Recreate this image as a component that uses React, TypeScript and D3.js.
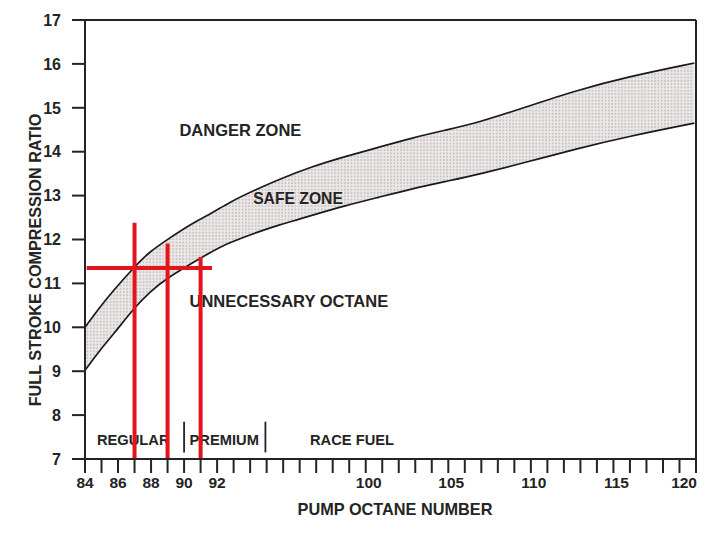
import React from "react";
import * as d3 from "d3";

// ---- data (octane number, compression ratio) ----
const upperOctane = [84, 84.9, 85.7, 87, 87.9, 89, 90.3, 91.7, 92.65, 94.26, 95.33, 97.1, 98.9, 100.77, 102.76, 104.8, 106.8, 109.8, 112.8, 115.8, 119.9];
const upperRatio = [10.0, 10.46, 10.83, 11.38, 11.72, 12.0, 12.33, 12.6, 12.85, 13.17, 13.37, 13.66, 13.89, 14.1, 14.31, 14.49, 14.66, 15.03, 15.4, 15.7, 16.02];
const lowerOctane = [84, 84.9, 85.7, 87, 87.9, 89, 91, 92.55, 94.26, 95.33, 96.4, 97.1, 98.9, 100.77, 102.76, 104.8, 106.8, 109.8, 112.8, 115.8, 119.9];
const lowerRatio = [9.02, 9.48, 9.83, 10.45, 10.8, 11.13, 11.58, 11.92, 12.18, 12.33, 12.46, 12.55, 12.77, 12.96, 13.15, 13.32, 13.48, 13.77, 14.07, 14.34, 14.65];

const xTickLabels = [84, 86, 88, 90, 92, 100, 105, 110, 115, 120];
const yTickLabels = [7, 8, 9, 10, 11, 12, 13, 14, 15, 16, 17];
const xTickCount = 38; // evenly spaced tick marks on the octane axis

// red reference lines
const redVerticalOctane = [87, 89, 91];
const redVerticalTop = [12.38, 11.91, 11.6];
const redHorizontalRatio = 11.35;
const redHorizontalFrom = 84.1;
const redHorizontalTo = 91.69;

// fuel category dividers
const dividerOctane = [90, 94.6];

const zoneLabels = ["DANGER ZONE", "SAFE ZONE", "UNNECESSARY OCTANE"];
const zoneOctane = [89.72, 93.94, 90.33];
const zoneRatio = [14.36, 12.82, 10.47];

const fuelLabels = ["REGULAR", "PREMIUM", "RACE FUEL"];
const fuelOctane = [84.72, 90.33, 97.0];
const fuelRatio = 7.32;

export default function App() {
  const W = 718, H = 534;
  const left = 85, right = 696, top = 20, bottom = 459;

  const xi = d3.scaleLinear().domain([0, xTickCount - 1]).range([left, right]);
  const x = d3.scaleLinear().domain([84, 92, 100, 120]).range([xi(0), xi(8), xi(17), xi(37)]);
  const y = d3.scaleLinear().domain([7, 17]).range([bottom, top]);

  const upperPts = upperOctane.map((o, i) => [x(o), y(upperRatio[i])] as [number, number]);
  const lowerPts = lowerOctane.map((o, i) => [x(o), y(lowerRatio[i])] as [number, number]);

  const line = d3.line().curve(d3.curveBasis);
  const upperPath = line(upperPts) || "";
  const lowerPath = line(lowerPts) || "";
  const lowerRev = line([...lowerPts].reverse()) || "";
  const areaPath = upperPath + "L" + lowerRev.slice(1) + "Z";

  const font = "'Liberation Sans', Arial, Helvetica, sans-serif";
  const ink = "#242424";
  const red = "#e3141c";

  return (
    <svg width={W} height={H} style={{ position: "absolute", left: 0, top: 0, background: "#fff" }}>
      <defs>
        <pattern id="dots" width="3.3" height="3.3" patternUnits="userSpaceOnUse">
          <rect width="3.3" height="3.3" fill="#ece8e8" />
          <circle cx="1.65" cy="1.65" r="0.95" fill="#c6c1c1" />
        </pattern>
      </defs>

      {/* safe band */}
      <path d={areaPath} fill="url(#dots)" stroke="none" />
      <path d={upperPath} fill="none" stroke="#1a1a1a" strokeWidth={1.7} />
      <path d={lowerPath} fill="none" stroke="#1a1a1a" strokeWidth={1.7} />

      {/* frame */}
      <line x1={left - 13} x2={right} y1={top} y2={top} stroke={ink} strokeWidth={2} />
      <line x1={right} x2={right} y1={top} y2={bottom + 14} stroke={ink} strokeWidth={2} />
      <line x1={left} x2={left} y1={top} y2={bottom + 14} stroke={ink} strokeWidth={2} />
      <line x1={left - 13} x2={right} y1={bottom} y2={bottom} stroke={ink} strokeWidth={2} />

      {/* y ticks */}
      {yTickLabels.map((v) => (
        <g key={"y" + v}>
          <line x1={left - 13} x2={left} y1={y(v)} y2={y(v)} stroke={ink} strokeWidth={2} />
          <text x={61} y={y(v)} dy="0.36em" textAnchor="end" fontFamily={font} fontWeight="bold" fontSize={16} fill={ink}>
            {v}
          </text>
        </g>
      ))}

      {/* x ticks */}
      {d3.range(xTickCount).map((i) => (
        <line key={"xt" + i} x1={xi(i)} x2={xi(i)} y1={bottom} y2={bottom + 14} stroke={ink} strokeWidth={2} />
      ))}
      {xTickLabels.map((v, i) => (
        <text
          key={"xl" + v}
          x={i === xTickLabels.length - 1 ? x(v) + 1 : x(v) + (v >= 100 ? 3 : 0)}
          y={488}
          textAnchor={i === xTickLabels.length - 1 ? "end" : "middle"}
          fontFamily={font}
          fontWeight="bold"
          fontSize={15.5}
          fill={ink}
        >
          {v}
        </text>
      ))}

      {/* axis titles */}
      <text x={395} y={515} textAnchor="middle" fontFamily={font} fontWeight="bold" fontSize={16.3} fill={ink}>
        PUMP OCTANE NUMBER
      </text>
      <text
        transform={`translate(41, ${(112 + 408) / 2}) rotate(-90)`}
        textAnchor="middle"
        fontFamily={font}
        fontWeight="bold"
        fontSize={16.2}
        fill={ink}
      >
        FULL STROKE COMPRESSION RATIO
      </text>

      {/* zone labels */}
      {zoneLabels.map((t, i) => (
        <text key={t} x={x(zoneOctane[i])} y={y(zoneRatio[i])} fontFamily={font} fontWeight="bold" fontSize={i === 1 ? 15.7 : 16.5} fill={ink}>
          {t}
        </text>
      ))}

      {/* fuel category labels and dividers */}
      {fuelLabels.map((t, i) => (
        <text key={t} x={x(fuelOctane[i])} y={y(fuelRatio)} fontFamily={font} fontWeight="bold" fontSize={14.7} fill={ink}>
          {t}
        </text>
      ))}
      {dividerOctane.map((o) => (
        <line key={"d" + o} x1={x(o)} x2={x(o)} y1={y(7.85)} y2={y(7.15)} stroke={ink} strokeWidth={1.8} />
      ))}

      {/* red reference lines */}
      <line
        x1={x(redHorizontalFrom)}
        x2={x(redHorizontalTo)}
        y1={y(redHorizontalRatio)}
        y2={y(redHorizontalRatio)}
        stroke={red}
        strokeWidth={4}
      />
      {redVerticalOctane.map((o, i) => (
        <line key={"r" + o} x1={x(o)} x2={x(o)} y1={y(redVerticalTop[i])} y2={y(7) - 1} stroke={red} strokeWidth={4} />
      ))}
    </svg>
  );
}
